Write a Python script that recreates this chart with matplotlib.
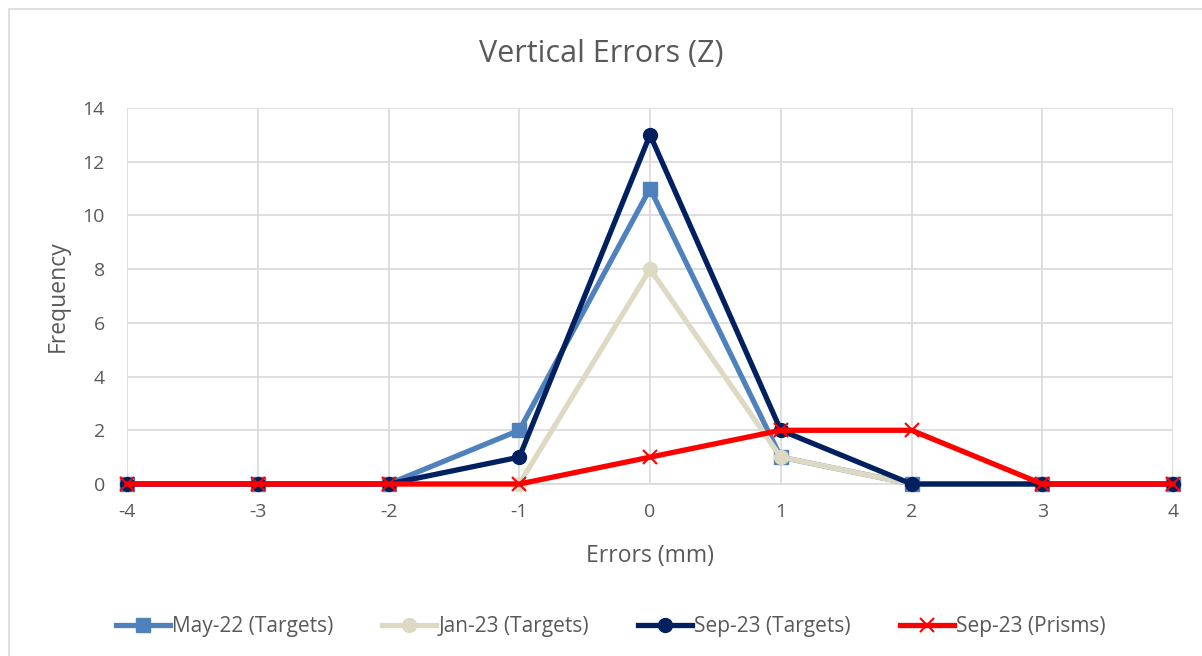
import matplotlib.pyplot as plt
from matplotlib.patches import Rectangle

plt.rcParams['font.family'] = ['Open Sans', 'DejaVu Sans']
plt.rcParams['axes.unicode_minus'] = False

# Data
errors = [-4, -3, -2, -1, 0, 1, 2, 3, 4]
may22_targets = [0, 0, 0, 2, 11, 1, 0, 0, 0]
jan23_targets = [0, 0, 0, 0, 8, 1, 0, 0, 0]
sep23_targets = [0, 0, 0, 1, 13, 2, 0, 0, 0]
sep23_prisms = [0, 0, 0, 0, 1, 2, 2, 0, 0]

text_color = '#595959'
grid_color = '#d9d9d9'

fig = plt.figure(figsize=(12.02, 6.56), dpi=100)
ax = fig.add_axes([0.1057, 0.2622, 0.8702, 0.5732])

# chart border like the Excel chart area
fig.patches.append(Rectangle((9 / 1202, -0.01), 1.1, 1 - 9 / 656 + 0.01,
                             transform=fig.transFigure, fill=False,
                             edgecolor='#d9d9d9', linewidth=1.2))

line_kw = dict(lw=3.8, ms=10, clip_on=False, zorder=3)
ax.plot(errors, may22_targets, color='#4f81bd', marker='s',
        label='May-22 (Targets)', **line_kw)
ax.plot(errors, jan23_targets, color='#ddd9c3', marker='o',
        label='Jan-23 (Targets)', **line_kw)
ax.plot(errors, sep23_targets, color='#002060', marker='o',
        label='Sep-23 (Targets)', **line_kw)
ax.plot(errors, sep23_prisms, color='#ff0000', marker='x', mew=1.5,
        label='Sep-23 (Prisms)', **line_kw)

ax.set_xlim(-4, 4)
ax.set_ylim(0, 14)
ax.set_xticks(errors)
ax.set_yticks(range(0, 15, 2))
ax.grid(True, color=grid_color, lw=1.2)
ax.set_axisbelow(True)
for side in ['top', 'right', 'left']:
    ax.spines[side].set_visible(False)
ax.spines['bottom'].set_color(grid_color)
ax.spines['bottom'].set_linewidth(1.2)
ax.spines['bottom'].set_zorder(1)
ax.tick_params(length=0, labelsize=14, labelcolor=text_color)
ax.tick_params(axis='x', pad=14)
ax.tick_params(axis='y', pad=16)

ax.set_xlabel('Errors (mm)', fontsize=16.5, color=text_color, labelpad=16)
ax.set_ylabel('Frequency', fontsize=16.5, color=text_color, labelpad=9)
fig.suptitle('Vertical Errors (Z)', fontsize=22, color=text_color, y=0.94)

fig.legend(loc='center', bbox_to_anchor=(0.508, 0.045), ncol=4, frameon=False,
           fontsize=15, labelcolor=text_color, handlelength=2.6,
           handletextpad=0.1, columnspacing=2.35)

fig.savefig('out.png', dpi=100)
